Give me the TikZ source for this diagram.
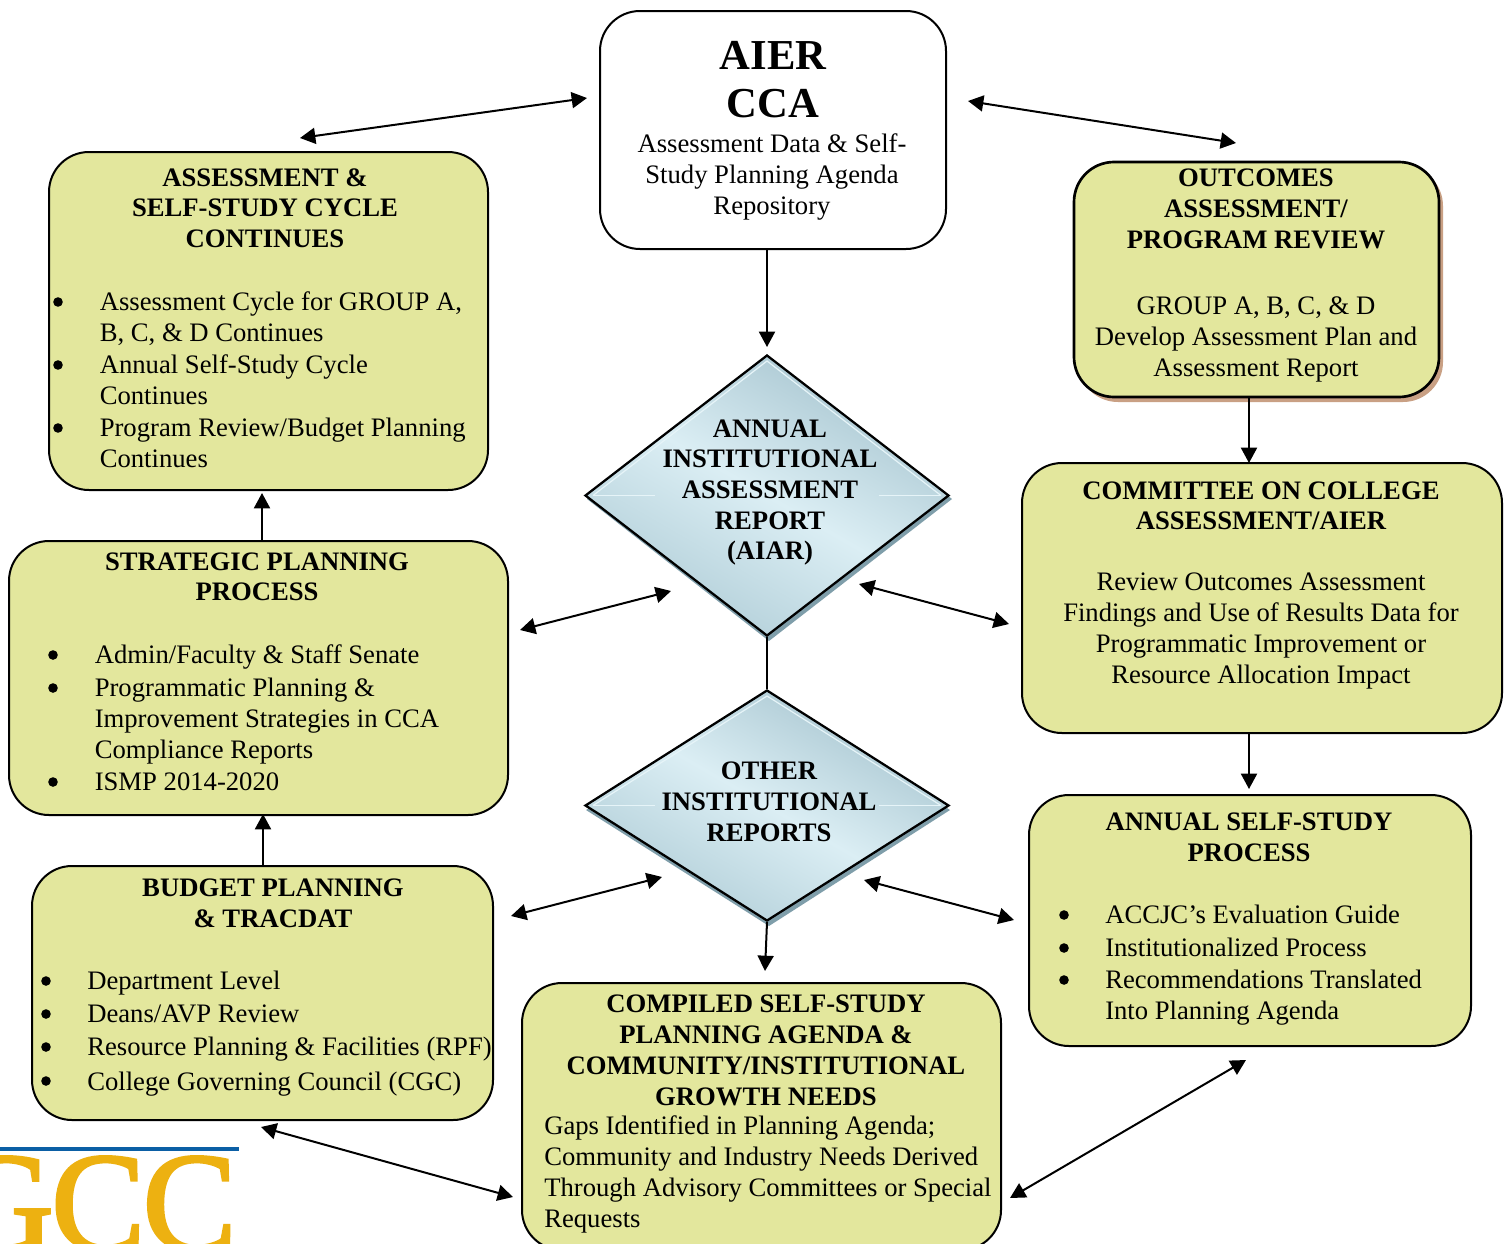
\documentclass[tikz,border=0pt]{standalone}
\usepackage{fontspec}
\setmainfont{Liberation Serif}
\newfontfamily\logofont[FakeBold=2,LetterSpace=-2]{Liberation Serif}
\usetikzlibrary{arrows.meta,shapes.geometric}
\definecolor{boxfill}{HTML}{E3E79D}
\definecolor{goldlogo}{HTML}{EDB111}
\definecolor{bluelogo}{HTML}{0B5FA5}
\definecolor{tanshadow}{HTML}{C9A084}
\definecolor{diashadow}{HTML}{7F9EAA}
\definecolor{diadark}{HTML}{A6C4CF}
\definecolor{diamid}{HTML}{DBEEF4}
\definecolor{dialow}{HTML}{B0CDD7}
\definecolor{diaedge}{HTML}{E6F4F8}
\newcommand{\firstline}{\rule{0pt}{15pt}}
\tikzset{
  x=0.75pt,y=-0.75pt,
  box/.style={draw=black,line width=1.5pt,fill=boxfill,rounded corners=30pt,inner sep=0pt},
  dia/.style={diamond,draw=black,line width=1.7pt,inner sep=0pt,top color=diadark,bottom color=dialow,middle color=diamid,shading angle=-30},
  body/.style={inner sep=0pt,font=\fontsize{20}{23.25}\selectfont,text=black},
  ctr/.style={body,anchor=north,align=center},
  lft/.style={body,anchor=north west,align=left},
  head/.style={ctr,font=\fontsize{20}{23}\selectfont\bfseries},
  headb/.style={ctr,font=\fontsize{20}{23.25}\selectfont\bfseries},
  bul/.style={circle,fill=black,inner sep=0pt,minimum size=7.2pt},
  arr/.style={line width=1.5pt,-{Triangle[length=11.5pt,width=12pt]}},
  arrb/.style={line width=1.5pt,{Triangle[length=11.5pt,width=12pt]}-{Triangle[length=11.5pt,width=12pt]}},
  plain/.style={line width=1.5pt},
}
% \pbox{name}{x1}{y1}{x2}{y2}{options}
\newcommand{\pbox}[6]{\node[box,#6,minimum width={(#4-#2)*0.75pt},minimum height={(#5-#3)*0.75pt}] (#1) at ({(#2+#4)/2},{(#3+#5)/2}) {};}
% \pdia{name}{left}{top}{right}{bottom}{aspect}
\newcommand{\pdia}[6]{\node[dia,minimum width={(#4-#2)*0.75pt},minimum height={(#5-#3)*0.75pt},shape aspect=#6] (#1) at ({(#2+#4)/2},{(#3+#5)/2}) {};
  \draw[diaedge,line width=0.9pt] ({#2+8},{(#3+#5)/2}) -- ({(#2+#4)/2},{#3+6}) -- ({#4-8},{(#3+#5)/2});
  \draw[diaedge,line width=0.4pt] ({#2+8},{(#3+#5)/2}) -- ({#2+70},{(#3+#5)/2});
  \draw[diaedge,line width=0.4pt] ({#4-70},{(#3+#5)/2}) -- ({#4-8},{(#3+#5)/2});}
% text placed by first baseline
\newcommand{\hd}[4]{\node[head] (#1) at (#2,{#3-20}) {\firstline #4};}
\newcommand{\hdb}[4]{\node[headb] (#1) at (#2,{#3-20}) {\firstline #4};}
\newcommand{\ct}[4]{\node[ctr] (#1) at (#2,{#3-20}) {\firstline #4};}
\newcommand{\lf}[4]{\node[lft] (#1) at (#2,{#3-20}) {\firstline #4};}
\newcommand{\bl}[3]{\node[bul] (#1) at (#2,#3) {};}
\begin{document}
\begin{tikzpicture}
\clip (0,0) rectangle (1510,1243);
\fill[white] (0,0) rectangle (1510,1243);

% logo
\begin{scope}
\clip (0,1151) rectangle (239,1243);
\node[inner sep=0pt,anchor=base east,text=goldlogo,font=\fontsize{106}{110}\logofont] (logo) at (237,1250) {GCC};
\end{scope}
\fill[bluelogo] (0,1147) rectangle (239,1151);

% shadows
\fill[tanshadow,rounded corners=30pt] (1078,166) rectangle (1443,402);
\fill[diashadow] (587,499) -- (769,359) -- (952,499) -- (769,641) -- cycle;
\fill[diashadow] (586,810) -- (769,694) -- (950,810) -- (769,926) -- cycle;

% boxes
\pbox{aier}{600}{11}{946}{249}{fill=white}
\pbox{assess}{49}{152}{488}{490}{}
\pbox{outcomes}{1074}{162}{1439}{397}{line width=2pt}
\pbox{committee}{1022}{463}{1502}{733}{}
\pbox{strategic}{9}{541}{508}{815}{}
\pbox{budget}{32}{866}{493}{1120}{}
\pbox{selfstudy}{1029}{795}{1471}{1046}{}
\pbox{compiled}{522}{983}{1001}{1250}{}
\pdia{aiar}{585}{355}{949}{636}{1.295}
\pdia{other}{585}{690}{949}{921}{1.576}

% free ends of connectors
\coordinate (a1) at (300,138); \coordinate (a2) at (587,98);
\coordinate (b1) at (968,101); \coordinate (b2) at (1236,143);
\coordinate (c1) at (767,347);
\coordinate (d1) at (520,630); \coordinate (d2) at (671,591);
\coordinate (e1) at (859,584); \coordinate (e2) at (1009,624);
\coordinate (f1) at (1249,789);
\coordinate (g1) at (511,916); \coordinate (g2) at (662,877);
\coordinate (h1) at (864,880); \coordinate (h2) at (1014,920);
\coordinate (i1) at (765,971);
\coordinate (j1) at (261,1127); \coordinate (j2) at (513,1197);
\coordinate (k1) at (1010,1198); \coordinate (k2) at (1246,1060);
\coordinate (m1) at (262,493);
\coordinate (n1) at (263,814);
\coordinate (o1) at (1249,463);

% connectors
\draw[arrb] (a1) -- (a2);
\draw[arrb] (b1) -- (b2);
\draw[arr] (aier.south -| c1) -- (c1);
\draw[arr] (strategic.north -| m1) -- (m1);
\draw[arrb] (d1) -- (d2);
\draw[arrb] (e1) -- (e2);
\draw[arr] (outcomes.south -| o1) -- (o1);
\draw[arr] (committee.south -| f1) -- (f1);
\draw[plain] (aiar.south) -- (other.north);
\draw[arr] (budget.north -| n1) -- (n1);
\draw[arrb] (g1) -- (g2);
\draw[arrb] (h1) -- (h2);
\draw[arr] (other.south) -- (i1);
\draw[arrb] (j1) -- (j2);
\draw[arrb] (k1) -- (k2);

% AIER
\node[inner sep=0pt,anchor=north,align=center,font=\fontsize{32}{36.3}\selectfont\bfseries] (aiert) at (773,41) {AIER\\CCA};
\ct{aierb}{772}{152}{Assessment Data \& Self-\\Study Planning Agenda\\Repository}

% Assessment
\hd{asst}{265}{186}{ASSESSMENT \&\\SELF-STUDY CYCLE\\CONTINUES}
\bl{as1}{58}{302}\lf{ast1}{99.5}{310}{Assessment Cycle for GROUP A,\\B, C, \& D Continues}
\bl{as2}{58}{365}\lf{ast2}{99.5}{373}{Annual Self-Study Cycle\\Continues}
\bl{as3}{58}{428}\lf{ast3}{99.5}{436}{Program Review/Budget Planning\\Continues}

% Outcomes
\hdb{outt}{1256}{186}{OUTCOMES\\ASSESSMENT/\\PROGRAM REVIEW}
\ct{outb}{1256}{314}{GROUP A, B, C, \& D\\Develop Assessment Plan and\\Assessment Report}

% Committee
\hd{comt}{1261}{499}{COMMITTEE ON COLLEGE\\ASSESSMENT/AIER}
\ct{comb}{1261}{590}{Review Outcomes Assessment\\Findings and Use of Results Data for\\Programmatic Improvement or\\Resource Allocation Impact}

% Strategic
\hd{strt}{257}{570}{STRATEGIC PLANNING\\PROCESS}
\bl{st1}{53}{655}\lf{stt1}{94.5}{663}{Admin/Faculty \& Staff Senate}
\bl{st2}{53}{688}\lf{stt2}{94.5}{696}{Programmatic Planning \&\\Improvement Strategies in CCA\\Compliance Reports}
\bl{st3}{53}{782}\lf{stt3}{94.5}{790}{ISMP 2014-2020}

% Budget
\hdb{budt}{273}{896}{BUDGET PLANNING\\\& TRACDAT}
\bl{bu1}{46}{981}\lf{but1}{87}{989}{Department Level}
\bl{bu2}{46}{1014}\lf{but2}{87}{1022}{Deans/AVP Review}
\bl{bu3}{46}{1047}\lf{but3}{87}{1055}{Resource Planning \& Facilities (RPF)}
\bl{bu4}{46}{1081}\lf{but4}{87}{1090}{College Governing Council (CGC)}

% Self-study
\hdb{selt}{1249}{830}{ANNUAL SELF-STUDY\\PROCESS}
\bl{se1}{1064}{915}\lf{set1}{1105}{923}{ACCJC’s Evaluation Guide}
\bl{se2}{1064}{948}\lf{set2}{1105}{956}{Institutionalized Process}
\bl{se3}{1064}{980}\lf{set3}{1105}{988}{Recommendations Translated\\Into Planning Agenda}

% Compiled
\hdb{cmpt}{766}{1012}{COMPILED SELF-STUDY\\PLANNING AGENDA \&\\COMMUNITY/INSTITUTIONAL\\GROWTH NEEDS}
\lf{cmpb}{544}{1134}{Gaps Identified in Planning Agenda;\\Community and Industry Needs Derived\\Through Advisory Committees or Special\\Requests}

% Diamonds
\hd{aiart}{770}{437}{ANNUAL\\INSTITUTIONAL\\ASSESSMENT\\REPORT\\(AIAR)}
\hdb{othert}{769}{779}{OTHER\\INSTITUTIONAL\\REPORTS}
\end{tikzpicture}
\end{document}
